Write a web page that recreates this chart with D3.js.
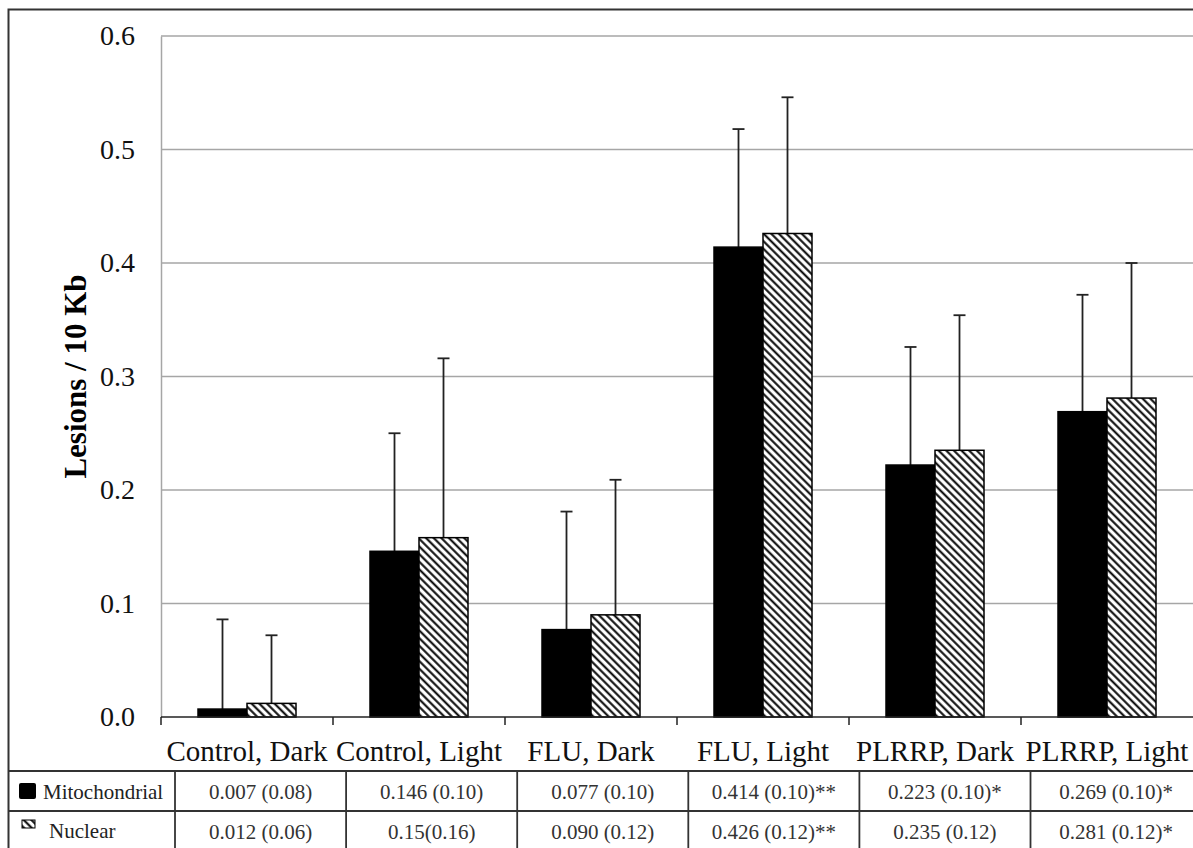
<!DOCTYPE html>
<html>
<head>
<meta charset="utf-8">
<script src="https://cdn.jsdelivr.net/npm/d3@7"></script>
<style>
	body { margin: 0; background: #fff; }
	text { font-family: "Liberation Serif", "Times New Roman", serif; }
</style>
</head>
<body>
<script>
(function () {
	//chart values
	var categories = ["Control, Dark", "Control, Light", "FLU, Dark", "FLU, Light", "PLRRP, Dark", "PLRRP, Light"];
	var seriesNames = ["Mitochondrial", "Nuclear"];
	var mitoMeans = [0.007, 0.146, 0.077, 0.414, 0.222, 0.269];
	var nuclearMeans = [0.012, 0.158, 0.090, 0.426, 0.235, 0.281];
	var mitoErr = [0.079, 0.104, 0.104, 0.104, 0.104, 0.103];
	var nuclearErr = [0.060, 0.158, 0.119, 0.120, 0.119, 0.119];
	var yTicks = [0, 0.1, 0.2, 0.3, 0.4, 0.5, 0.6];
	var mitoLabels = ["0.007 (0.08)", "0.146 (0.10)", "0.077 (0.10)", "0.414 (0.10)**", "0.223 (0.10)*", "0.269 (0.10)*"];
	var nuclearLabels = ["0.012 (0.06)", "0.15(0.16)", "0.090 (0.12)", "0.426 (0.12)**", "0.235 (0.12)", "0.281 (0.12)*"];

	var width = 1193, height = 848;
	var plot = { left: 161, right: 1193, top: 36, bottom: 717 };

	var svg = d3.select("body").append("svg")
		.attr("width", width)
		.attr("height", height);

	//hatch pattern for nuclear bars
	var defs = svg.append("defs");
	defs.append("pattern")
		.attr("id", "hatch")
		.attr("patternUnits", "userSpaceOnUse")
		.attr("width", 5.4)
		.attr("height", 5.4)
		.attr("patternTransform", "rotate(45)")
		.call(function (p) {
			p.append("rect").attr("width", 5.4).attr("height", 5.4).attr("fill", "#fff");
			p.append("line")
				.attr("x1", 0).attr("x2", 5.4)
				.attr("y1", 1.4).attr("y2", 1.4)
				.attr("stroke", "#000").attr("stroke-width", 2);
		});

	//scales
	var x0 = d3.scaleBand().domain(categories).range([plot.left, plot.right]);
	var x1 = d3.scaleBand().domain(seriesNames).range([37, 135]);
	var y = d3.scaleLinear().domain([0, 0.6]).range([plot.bottom, plot.top]);

	//outer frame
	svg.append("rect")
		.attr("x", 8.5).attr("y", 9.5)
		.attr("width", width + 20).attr("height", height + 20)
		.attr("fill", "none")
		.attr("stroke", "#333")
		.attr("stroke-width", 2);

	//gridlines
	svg.append("g")
		.selectAll("line")
		.data(yTicks.filter(function (d) { return d > 0; }))
		.enter().append("line")
		.attr("x1", plot.left).attr("x2", plot.right)
		.attr("y1", function (d) { return y(d); })
		.attr("y2", function (d) { return y(d); })
		.attr("stroke", "#a6a6a6")
		.attr("stroke-width", 1.5);

	//y axis
	var yAxis = svg.append("g")
		.attr("transform", "translate(" + plot.left + ",0)")
		.call(d3.axisLeft(y).tickValues(yTicks).tickFormat(d3.format(".1f")).tickSize(0).tickPadding(26));
	yAxis.select(".domain").attr("stroke", "#a6a6a6").attr("stroke-width", 1.5);
	yAxis.selectAll("text")
		.attr("font-size", 28)
		.attr("fill", "#111")
		.style("font-family", "'Liberation Serif', 'Times New Roman', serif");

	svg.append("text")
		.attr("transform", "translate(86," + ((plot.top + plot.bottom) / 2) + ") rotate(-90)")
		.attr("text-anchor", "middle")
		.attr("font-size", 31)
		.attr("font-weight", "bold")
		.text("Lesions / 10 Kb");

	//bars
	var rows = categories.map(function (c, i) {
		return [
			{ cat: c, s: "Mitochondrial", v: mitoMeans[i], e: mitoErr[i] },
			{ cat: c, s: "Nuclear", v: nuclearMeans[i], e: nuclearErr[i] }
		];
	});

	var groups = svg.append("g").selectAll("g")
		.data(rows)
		.enter().append("g")
		.attr("transform", function (d) { return "translate(" + x0(d[0].cat) + ",0)"; });

	//error bars (upper only), drawn first so bars sit on top
	var err = groups.selectAll(".err")
		.data(function (d) { return d; })
		.enter().append("g")
		.attr("class", "err")
		.attr("stroke", "#222")
		.attr("stroke-width", 1.8);
	err.append("line")
		.attr("x1", function (d) { return x1(d.s) + x1.bandwidth() / 2; })
		.attr("x2", function (d) { return x1(d.s) + x1.bandwidth() / 2; })
		.attr("y1", function (d) { return y(d.v); })
		.attr("y2", function (d) { return y(d.v + d.e); });
	err.append("line")
		.attr("x1", function (d) { return x1(d.s) + x1.bandwidth() / 2 - 6; })
		.attr("x2", function (d) { return x1(d.s) + x1.bandwidth() / 2 + 6; })
		.attr("y1", function (d) { return y(d.v + d.e); })
		.attr("y2", function (d) { return y(d.v + d.e); });

	groups.selectAll(".bar")
		.data(function (d) { return d; })
		.enter().append("rect")
		.attr("class", "bar")
		.attr("x", function (d) { return x1(d.s); })
		.attr("y", function (d) { return y(d.v); })
		.attr("width", x1.bandwidth())
		.attr("height", function (d) { return y(0) - y(d.v); })
		.attr("fill", function (d) { return d.s === "Mitochondrial" ? "#000" : "url(#hatch)"; })
		.attr("stroke", "#000")
		.attr("stroke-width", 1.5);

	//x axis
	var xAxis = svg.append("g")
		.attr("transform", "translate(0," + plot.bottom + ")");
	xAxis.append("line")
		.attr("x1", plot.left).attr("x2", plot.right)
		.attr("stroke", "#222").attr("stroke-width", 1.5);
	xAxis.selectAll(".tick")
		.data(categories)
		.enter().append("line")
		.attr("x1", function (d) { return x0(d); })
		.attr("x2", function (d) { return x0(d); })
		.attr("y1", 0).attr("y2", 8)
		.attr("stroke", "#222").attr("stroke-width", 1.5);
	xAxis.selectAll(".lab")
		.data(categories)
		.enter().append("text")
		.attr("x", function (d) { return x0(d) + x0.bandwidth() / 2; })
		.attr("y", 44)
		.attr("text-anchor", "middle")
		.attr("font-size", 29)
		.attr("fill", "#111")
		.text(function (d) { return d; });

	//data table below chart
	var tableTop = 771, rowH = 40;
	var tx = d3.scaleBand().domain(categories).range([175, 175 + 6 * 171.1]);
	var table = svg.append("g").attr("stroke", "#333").attr("stroke-width", 1.8);
	[tableTop, tableTop + rowH, tableTop + 2 * rowH].forEach(function (ly) {
		table.append("line").attr("x1", 8).attr("x2", width).attr("y1", ly).attr("y2", ly);
	});
	categories.forEach(function (c) {
		table.append("line")
			.attr("x1", tx(c)).attr("x2", tx(c))
			.attr("y1", tableTop).attr("y2", height);
	});

	var tableRows = [mitoLabels, nuclearLabels];
	tableRows.forEach(function (labels, r) {
		svg.append("g").selectAll("text")
			.data(labels)
			.enter().append("text")
			.attr("x", function (d, i) { return tx(categories[i]) + tx.bandwidth() / 2; })
			.attr("y", tableTop + r * rowH + 28)
			.attr("text-anchor", "middle")
			.attr("font-size", 21)
			.attr("fill", "#333")
			.text(function (d) { return d; });
	});

	//legend keys in the table
	svg.append("rect")
		.attr("x", 19).attr("y", 783)
		.attr("width", 17).attr("height", 16)
		.attr("rx", 2)
		.attr("fill", "#000");
	svg.append("text")
		.attr("x", 43).attr("y", 799)
		.attr("font-size", 21)
		.attr("fill", "#222")
		.text(seriesNames[0]);
	svg.append("rect")
		.attr("x", 22).attr("y", 820)
		.attr("width", 13).attr("height", 8)
		.attr("fill", "url(#hatch)")
		.attr("stroke", "#000")
		.attr("stroke-width", 1);
	svg.append("text")
		.attr("x", 49).attr("y", 838)
		.attr("font-size", 21)
		.attr("fill", "#222")
		.text(seriesNames[1]);
})();
</script>
</body>
</html>
